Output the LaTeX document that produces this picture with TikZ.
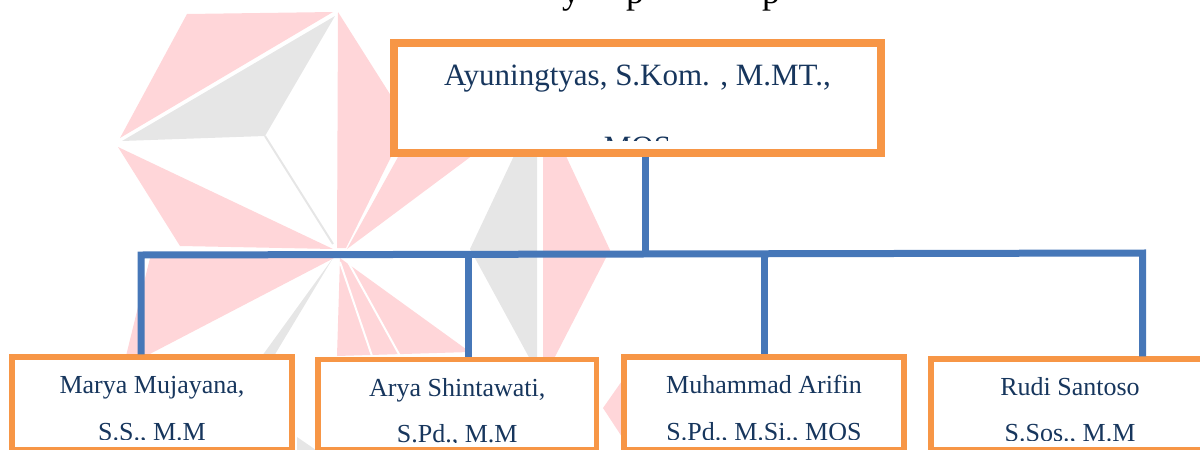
\documentclass[tikz,border=0pt]{standalone}
\usepackage{fontspec}
\setmainfont{Liberation Serif}
\definecolor{borange}{HTML}{F79646}
\definecolor{bblue}{HTML}{4677B8}
\definecolor{tnavy}{HTML}{17365D}
\definecolor{wmpink}{HTML}{FFD6D9}
\definecolor{wmgray}{HTML}{E6E6E6}
\begin{document}
\begin{tikzpicture}[x=1pt,y=-1pt,
  box/.style={draw=borange, fill=white, rectangle, inner sep=0pt, line width=5.5pt},
  topbox/.style={box, line width=8pt},
  conn/.style={draw=bblue, line width=7pt},
  lbl/.style={anchor=base, inner sep=0pt, text=tnavy, font=\fontsize{26}{26}\selectfont},
  toplbl/.style={lbl, font=\fontsize{31}{31}\selectfont},
  ttl/.style={anchor=base west, inner sep=0pt, font=\fontsize{36}{36}\selectfont},
  wmp/.style={fill=wmpink},
  wmg/.style={fill=wmgray},
  wmcut/.style={draw=white, line width=2pt}]
\clip (0,0) rectangle (1200,450);
% watermark
\fill[wmp] (187,14) -- (333,12) -- (120,138) -- cycle;
\fill[wmg] (335,16) -- (122,141) -- (265,136) -- cycle;
\draw[draw=wmgray, line width=2pt] (265,136) -- (333,244);
\fill[wmp] (118,147) -- (180,246) -- (333,249) -- cycle;
\fill[wmp] (338,12) -- (400,110) -- (391,157) -- (346,248) -- (337,248) -- cycle;
\fill[wmp] (398,157) -- (402,105) -- (540,105) -- (347,249) -- cycle;
\fill[wmg] (537,107) -- (470,249) -- (537,372) -- cycle;
\fill[wmp] (543,107) -- (610,250) -- (543,380) -- cycle;
\fill[wmp] (340,258) -- (470,352) -- (337,356) -- cycle;
\draw[wmcut] (340,262) -- (372,356);
\draw[wmcut] (347,260) -- (400,356);
\fill[wmp] (336,257) -- (150,258) -- (126,356) -- (146,356) -- cycle;
\fill[wmg] (333,258) -- (262,356) -- (274,356) -- cycle;
\fill[wmg] (297,437) -- (316,450) -- (297,450) -- cycle;
\fill[wmp] (624,378) -- (603,408) -- (624,440) -- cycle;
% title (cut off at top)
\node[ttl] (ty) at (562,3) {y};
\node[ttl] (tp1) at (626,3) {p};
\node[ttl] (tp2) at (762,3) {p};
% boxes
\node[topbox, minimum width=487pt, minimum height=110pt] (top) at (637.5,97.5) {};
\node[box, minimum width=280pt, minimum height=93pt] (marya) at (152,403.5) {};
\node[box, minimum width=278.5pt, minimum height=90.5pt] (arya) at (457.25,404.75) {};
\node[box, minimum width=280pt, minimum height=93pt] (muh) at (764,403.5) {};
\node[box, minimum width=278pt, minimum height=91pt] (rudi) at (1070,404.5) {};
% texts
\begin{scope}
\clip (398,47) rectangle (877,140);
\node[toplbl] (t1) at (637.5,85) {Ayuningtyas, S.Kom. , M.MT.,};
\node[toplbl] (t2) at (637.5,157.5) {MOS};
\end{scope}
\begin{scope}
\clip (15,360) rectangle (289,439.5);
\node[lbl] (m1) at (152,393.6) {Marya Mujayana,};
\node[lbl] (m2) at (152,440.3) {S.S., M.M};
\end{scope}
\begin{scope}
\clip (321,362) rectangle (593,442);
\node[lbl] (a1) at (457.25,396) {Arya Shintawati,};
\node[lbl] (a2) at (457.25,442.8) {S.Pd., M.M};
\end{scope}
\begin{scope}
\clip (627,360) rectangle (901,439.5);
\node[lbl] (h1) at (764,393.6) {Muhammad Arifin};
\node[lbl] (h2) at (764,440.3) {S.Pd., M.Si., MOS};
\end{scope}
\begin{scope}
\clip (934,362) rectangle (1200,440.5);
\node[lbl] (r1) at (1070,395.3) {Rudi Santoso};
\node[lbl] (r2) at (1070,441.5) {S.Sos., M.M};
\end{scope}
% connectors
\coordinate (busL) at (141,255);
\coordinate (busR) at (1142.5,253);
\coordinate (j0) at (645,253.5);
\coordinate (j1) at (468.5,254.3);
\coordinate (j2) at (764,253.8);
\draw[conn] (busL |- marya.north) -- (busL) -- (busR) -- (busR |- rudi.north);
\draw[conn] (top.south -| j0) -- (j0);
\draw[conn] (j1) -- (j1 |- arya.north);
\draw[conn] (j2) -- (j2 |- muh.north);
\end{tikzpicture}
\end{document}
